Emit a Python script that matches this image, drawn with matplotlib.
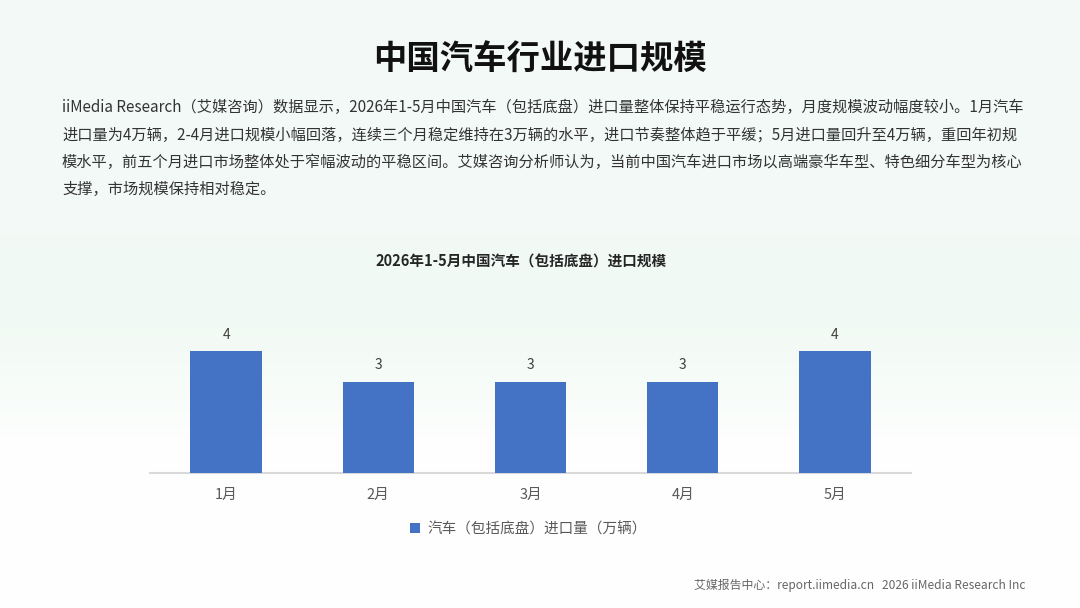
import matplotlib
matplotlib.use("Agg")
import matplotlib.pyplot as plt
import numpy as np
from matplotlib.colors import LinearSegmentedColormap

plt.rcParams['font.family'] = ['Noto Sans CJK SC', 'DejaVu Sans']

# ---- data ----
months = ["1月", "2月", "3月", "4月", "5月"]
imports = [4, 3, 3, 3, 4]
series_name = "汽车（包括底盘）进口量（万辆）"
main_title = "中国汽车行业进口规模"
chart_title = "2026年1-5月中国汽车（包括底盘）进口规模"
para_lines = [
    "iiMedia Research（艾媒咨询）数据显示，2026年1-5月中国汽车（包括底盘）进口量整体保持平稳运行态势，月度规模波动幅度较小。1月汽车",
    "进口量为4万辆，2-4月进口规模小幅回落，连续三个月稳定维持在3万辆的水平，进口节奏整体趋于平缓；5月进口量回升至4万辆，重回年初规",
    "模水平，前五个月进口市场整体处于窄幅波动的平稳区间。艾媒咨询分析师认为，当前中国汽车进口市场以高端豪华车型、特色细分车型为核心",
    "支撑，市场规模保持相对稳定。",
]
footer = "艾媒报告中心：report.iimedia.cn   2026 iiMedia Research Inc"

W, H = 1080, 608
fig = plt.figure(figsize=(W / 100, H / 100), dpi=100)

# background gradient
bg = fig.add_axes([0, 0, 1, 1], zorder=-10)
bg.set_axis_off()
cmap = LinearSegmentedColormap.from_list(
    "bg", [(0.0, "#f4f9f8"), (0.35, "#f3faf7"), (0.5, "#f0f9f3"), (0.62, "#f6fcf8"),
           (0.72, "#fdfefd"), (1.0, "#ffffff")])
grad = np.linspace(0, 1, 256).reshape(-1, 1)
bg.imshow(grad, aspect="auto", cmap=cmap, extent=[0, 1, 0, 1], origin="upper")
bg.set_xlim(0, 1)
bg.set_ylim(0, 1)

def fy(py):
    return 1 - py / H

def fx(px):
    return px / W

# titles and paragraph
fig.text(0.5, fy(60), main_title, ha="center", va="center", fontsize=24,
         fontweight="bold", color="#111111")
line_y = [107, 135, 162, 189]
for ly, txt in zip(line_y, para_lines):
    fig.text(fx(62), fy(ly), txt, ha="left", va="center", fontsize=10.95, color="#333333")

fig.text(fx(521), fy(262), chart_title, ha="center", va="center", fontsize=10.5,
         fontweight="bold", color="#262626")

# bar chart
left, right = 150, 911
base, top = 473, 321
ax = fig.add_axes([fx(left), fy(base), (right - left) / W, (base - top) / H])
ax.patch.set_alpha(0)
x = np.arange(len(months))
bars = ax.bar(x, imports, width=0.47, color="#4472C4", zorder=3)
ax.set_xlim(-0.5, len(months) - 0.5)
ax.set_ylim(0, 5)
for spine in ["top", "right", "left"]:
    ax.spines[spine].set_visible(False)
ax.spines["bottom"].set_color("#d9d9d9")
ax.spines["bottom"].set_linewidth(1.5)
ax.set_yticks([])
ax.set_xticks(x)
ax.set_xticklabels(months, fontsize=10.5, color="#595959")
ax.tick_params(axis="x", length=0, pad=11)
for b, v in zip(bars, imports):
    ax.annotate(f"{v}", (b.get_x() + b.get_width() / 2, v), xytext=(0, 7),
                textcoords="offset points", ha="center", va="bottom",
                fontsize=10, color="#404040")

# legend
leg = fig.legend([bars[0]], [series_name], loc="center", bbox_to_anchor=(fx(528), fy(529)),
                 frameon=False, fontsize=10.5, handlelength=0.7, handleheight=0.7,
                 handletextpad=0.5)
for t in leg.get_texts():
    t.set_color("#595959")

fig.text(fx(1026), fy(585), footer, ha="right", va="center", fontsize=8.6, color="#666666")

fig.savefig("out.png", dpi=100)
